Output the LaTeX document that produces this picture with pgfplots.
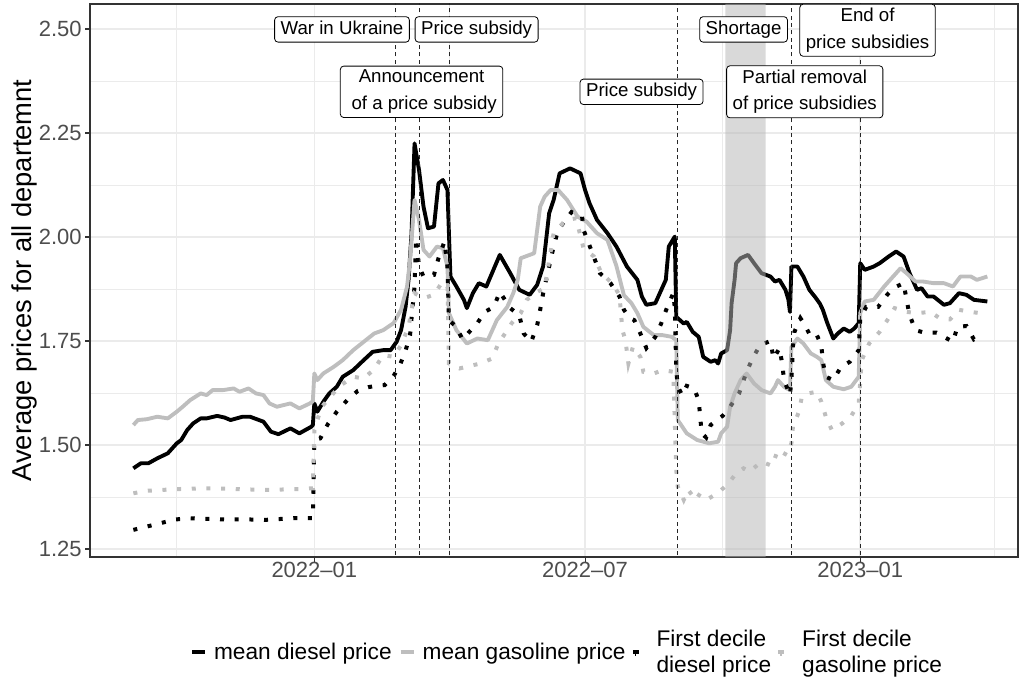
\documentclass[border=0pt]{standalone}
\usepackage{fontspec}
\setmainfont{Liberation Sans}
\usepackage{pgfplots}
\pgfplotsset{compat=1.18}
\definecolor{gridmaj}{HTML}{EBEBEB}
\definecolor{frame}{HTML}{333333}
\definecolor{ticklab}{HTML}{4D4D4D}
\definecolor{lgray}{HTML}{BEBEBE}
\definecolor{rectc}{RGB}{183,183,183}
\tikzset{evlabel/.style={draw=black, line width=0.6pt, fill=white, rounded corners=2.5pt,
  inner xsep=4.5pt, inner ysep=3pt, align=center, font=\fontsize{14}{20}\selectfont},
  vline/.style={black!85, line width=0.6pt, dash pattern=on 3pt off 2.5pt}}
\begin{document}
\begin{tikzpicture}
\path[use as bounding box] (-67.5pt,-93pt) rectangle (696.75pt,417.75pt);
\begin{axis}[
  at={(0,0)}, anchor=south west,
  scale only axis, width=696pt, height=414.75pt,
  xmin=-150, xmax=470.5, ymin=1.2308, ymax=2.5601,
  clip mode=individual,
  axis line style={frame, line width=0.8pt},
  tick style={frame, line width=0.8pt},
  tick align=outside, major tick length=3.5pt, minor tick length=0pt,
  tick pos=left,
  xtick={0,181,365}, xticklabels={2022–01,2022–07,2023–01},
  minor xtick={-92,90,273,455},
  ytick={1.25,1.5,1.75,2,2.25,2.5}, yticklabels={1.25,1.50,1.75,2.00,2.25,2.50},
  minor ytick={1.375,1.625,1.875,2.125,2.375},
  grid=both,
  major grid style={gridmaj, line width=1.1pt},
  minor grid style={gridmaj, line width=0.6pt},
  xticklabel style={font=\fontsize{16.5}{19}\selectfont, text=ticklab, yshift=3pt},
  yticklabel style={font=\fontsize{16.5}{19}\selectfont, text=ticklab, xshift=0.8pt},
  ylabel={Average prices for all departemnt},
  ylabel style={font=\fontsize{20.5}{24}\selectfont, at={([xshift=-49.4pt]axis description cs:0,0.5)}, anchor=center},
  legend columns=4,
  legend cell align=left,
  legend style={at={(0.513,-0.1718)}, anchor=center, draw=none, fill=none,
    font=\fontsize{17}{19.5}\selectfont, column sep=5.25pt,
    cells={align=left}, nodes={inner xsep=0pt, inner ysep=1pt}},
]
\addplot[black, line width=2.9pt, line join=round,
  legend image code/.code={\draw[black, line width=3pt] (0pt,0pt) -- (9.75pt,0pt);}] coordinates {
(-121,1.444) (-116,1.456) (-111,1.456) (-105,1.468) (-98,1.480) (-92,1.504) (-89,1.512) (-85,1.536)
(-81,1.552) (-76,1.564) (-72,1.564) (-65,1.570) (-60,1.566) (-56,1.560) (-48,1.568) (-43,1.568)
(-34,1.556) (-29,1.532) (-24,1.526) (-16,1.540) (-10,1.528) (-2,1.544) (-1,1.548) (0,1.600)
(2,1.580) (6,1.604) (10,1.624) (15,1.640) (19,1.664) (26,1.680) (33,1.704) (39,1.724) (46,1.728)
(51,1.728) (55,1.748) (58,1.776) (61,1.832) (63,1.897) (65,2.009) (67,2.225) (70,2.161) (73,2.073)
(76,2.021) (80,2.025) (83,2.129) (86,2.137) (89,2.113) (90,2.009) (91,1.905) (95,1.881) (100,1.849)
(102,1.829) (106,1.865) (110,1.889) (115,1.881) (124,1.957) (131,1.913) (137,1.873) (144,1.861)
(149,1.885) (153,1.930) (157,2.057) (160,2.089) (164,2.153) (171,2.165) (178,2.153) (181,2.113)
(184,2.081) (189,2.041) (196,2.009) (202,1.977) (209,1.929) (216,1.897) (219,1.857) (222,1.837)
(228,1.841) (231,1.865) (235,1.897) (237,1.977) (241,2.001) (242,1.808) (247,1.792) (249,1.796)
(253,1.772) (257,1.760) (260,1.712) (265,1.700) (268,1.704) (270,1.696) (272,1.720) (276,1.728)
(278,1.776) (279,1.841) (281,1.897) (282,1.937) (285,1.949) (290,1.957) (294,1.937) (299,1.913)
(305,1.905) (308,1.893) (311,1.897) (315,1.873) (317,1.849) (318,1.820) (319,1.929) (323,1.929)
(327,1.905) (331,1.873) (335,1.855) (338,1.840) (340,1.825) (343,1.793) (347,1.756) (350,1.768)
(354,1.780) (358,1.772) (361,1.780) (364,1.793) (365,1.937) (368,1.921) (374,1.929) (378,1.937)
(384,1.953) (389,1.965) (394,1.953) (398,1.913) (403,1.873) (406,1.877) (410,1.857) (414,1.857)
(421,1.837) (425,1.841) (431,1.865) (436,1.861) (441,1.849) (450,1.845)
};
\addlegendentry{mean diesel price}
\addplot[lgray, line width=2.9pt, line join=round,
  legend image code/.code={\draw[lgray, line width=3pt] (0pt,0pt) -- (9.75pt,0pt);}] coordinates {
(-121,1.548) (-118,1.560) (-112,1.562) (-105,1.568) (-98,1.564) (-92,1.580) (-88,1.592) (-83,1.608)
(-76,1.624) (-72,1.620) (-68,1.632) (-61,1.632) (-54,1.636) (-50,1.628) (-44,1.636) (-39,1.624)
(-34,1.620) (-30,1.600) (-25,1.592) (-16,1.600) (-10,1.588) (-3,1.600) (-1,1.605) (0,1.672)
(2,1.656) (6,1.672) (13,1.688) (19,1.704) (26,1.728) (33,1.748) (40,1.768) (46,1.776) (53,1.793)
(58,1.825) (62,1.881) (64,1.945) (67,2.089) (70,2.041) (73,1.969) (77,1.953) (82,1.977) (86,1.973)
(89,1.929) (90,1.817) (95,1.776) (102,1.744) (109,1.756) (116,1.752) (122,1.800) (129,1.832)
(133,1.865) (136,1.897) (138,1.949) (147,1.961) (151,2.073) (154,2.097) (158,2.113) (163,2.113)
(169,2.089) (176,2.049) (182,2.037) (189,2.009) (196,1.993) (202,1.930) (207,1.860) (212,1.841)
(216,1.817) (220,1.784) (227,1.764) (233,1.764) (239,1.760) (242,1.752) (243,1.560) (249,1.528)
(256,1.512) (264,1.504) (270,1.508) (272,1.528) (276,1.544) (278,1.592) (281,1.624) (285,1.656)
(289,1.672) (294,1.648) (299,1.632) (305,1.624) (308,1.640) (310,1.656) (314,1.640) (318,1.632)
(319,1.736) (323,1.756) (327,1.744) (332,1.720) (336,1.712) (339,1.704) (342,1.656) (347,1.640)
(354,1.634) (359,1.640) (364,1.664) (365,1.817) (368,1.845) (374,1.849) (381,1.881) (385,1.897)
(387,1.905) (392,1.925) (396,1.913) (402,1.893) (407,1.893) (414,1.889) (421,1.889) (427,1.881)
(432,1.905) (439,1.905) (443,1.897) (450,1.905)
};
\addlegendentry{mean gasoline price}
\addplot[black, line width=3pt, dash pattern=on 3pt off 8pt,
  legend image code/.code={\fill[black] (0pt,-1.5pt) rectangle (3pt,1.5pt); \path (0pt,0pt) -- (9.75pt,0pt);}] coordinates {
(-121,1.296) (-112,1.304) (-103,1.312) (-93,1.321) (-83,1.324) (-60,1.321) (-43,1.321) (-33,1.320)
(-14,1.324) (-4,1.324) (-1,1.324) (0,1.512) (4,1.516) (9,1.550) (15,1.580) (22,1.608) (29,1.630)
(36,1.639) (41,1.642) (47,1.644) (53,1.666) (57,1.690) (61,1.727) (64,1.764) (65,1.805) (67,1.881)
(68,1.997) (70,1.929) (73,1.905) (80,1.909) (83,1.949) (87,1.989) (89,1.929) (90,1.800) (95,1.784)
(99,1.754) (109,1.793) (114,1.820) (120,1.832) (124,1.868) (131,1.829) (137,1.812) (140,1.768)
(145,1.748) (149,1.788) (151,1.825) (153,1.865) (160,1.977) (163,2.017) (172,2.060) (179,2.050)
(180,2.017) (183,1.989) (191,1.913) (198,1.889) (204,1.857) (207,1.825) (211,1.805) (214,1.800)
(218,1.768) (222,1.733) (228,1.760) (232,1.793) (236,1.832) (240,1.865) (241,1.830) (242,1.680)
(243,1.640) (246,1.620) (249,1.642) (254,1.636) (257,1.607) (258,1.568) (259,1.528) (262,1.518)
(265,1.548) (269,1.560) (273,1.570) (278,1.592) (284,1.624) (289,1.676) (293,1.708) (298,1.740)
(305,1.750) (307,1.708) (309,1.720) (311,1.733) (313,1.692) (314,1.656) (318,1.620) (319,1.656)
(320,1.736) (321,1.772) (325,1.805) (328,1.788) (332,1.760) (336,1.764) (339,1.740) (340,1.700)
(342,1.664) (347,1.656) (352,1.687) (358,1.700) (364,1.728) (365,1.805) (369,1.832) (377,1.832)
(383,1.861) (387,1.877) (394,1.889) (396,1.849) (398,1.812) (402,1.776) (408,1.770) (416,1.770)
(423,1.756) (427,1.748) (430,1.784) (436,1.786) (441,1.754) (444,1.760)
};
\addlegendentry{First decile\\diesel price}
\addplot[lgray, line width=3pt, dash pattern=on 3pt off 8pt,
  legend image code/.code={\fill[lgray] (0pt,-1.5pt) rectangle (3pt,1.5pt); \path (0pt,0pt) -- (9.75pt,0pt);}] coordinates {
(-121,1.384) (-112,1.390) (-92,1.394) (-72,1.396) (-50,1.394) (-34,1.392) (-10,1.394) (-2,1.396)
(-1,1.396) (0,1.536) (2,1.560) (5,1.592) (17,1.642) (26,1.664) (33,1.660) (40,1.682) (46,1.716)
(53,1.712) (58,1.740) (63,1.784) (67,1.865) (73,1.853) (80,1.861) (85,1.889) (89,1.885) (90,1.696)
(97,1.684) (104,1.690) (111,1.696) (119,1.708) (123,1.744) (129,1.776) (132,1.793) (138,1.817)
(142,1.849) (149,1.868) (154,1.877) (160,2.009) (168,2.040) (175,2.045) (180,1.973) (187,1.953)
(192,1.913) (199,1.889) (204,1.861) (206,1.776) (208,1.752) (210,1.696) (213,1.736) (218,1.712)
(220,1.676) (227,1.672) (233,1.680) (240,1.676) (242,1.440) (243,1.400) (247,1.368) (250,1.392)
(255,1.368) (258,1.384) (264,1.372) (270,1.385) (277,1.408) (282,1.432) (287,1.444) (291,1.436)
(299,1.460) (306,1.450) (310,1.488) (316,1.476) (319,1.504) (320,1.544) (324,1.580) (326,1.616)
(330,1.624) (336,1.628) (339,1.604) (342,1.568) (346,1.536) (353,1.552) (359,1.570) (364,1.600)
(366,1.704) (371,1.744) (378,1.772) (384,1.805) (388,1.829) (396,1.820) (403,1.817) (412,1.820)
(418,1.805) (425,1.802) (431,1.825) (439,1.820) (445,1.817)
};
\addlegendentry{First decile\\gasoline price}
% shortage period
\addplot[draw=none, fill=rectc, fill opacity=0.52, forget plot] coordinates {
(274.8,1.2308) (301.8,1.2308) (301.8,2.5601) (274.8,2.5601)} \closedcycle;
% event lines
\addplot[vline, forget plot] coordinates {(54,1.2) (54,2.6)};
\addplot[vline, forget plot] coordinates {(70,1.2) (70,2.6)};
\addplot[vline, forget plot] coordinates {(90,1.2) (90,2.6)};
\addplot[vline, forget plot] coordinates {(243,1.2) (243,2.6)};
\addplot[vline, forget plot] coordinates {(319,1.2) (319,2.6)};
\addplot[vline, forget plot] coordinates {(365,1.2) (365,2.6)};
% labels
\node[evlabel] at (axis cs:18.5,2.499) {War in Ukraine\vphantom{y}};
\node[evlabel] at (axis cs:108.5,2.499) {Price subsidy};
\node[evlabel] at (axis cs:71.7,2.349) {Announcement\\\ of a price subsidy};
\node[evlabel] at (axis cs:218.8,2.349) {Price subsidy};
\node[evlabel] at (axis cs:287,2.499) {Shortage};
\node[evlabel] at (axis cs:327.9,2.349) {Partial removal\\of price subsidies};
\node[evlabel] at (axis cs:369.9,2.497) {End of\\price subsidies};
\end{axis}
\end{tikzpicture}
\end{document}
